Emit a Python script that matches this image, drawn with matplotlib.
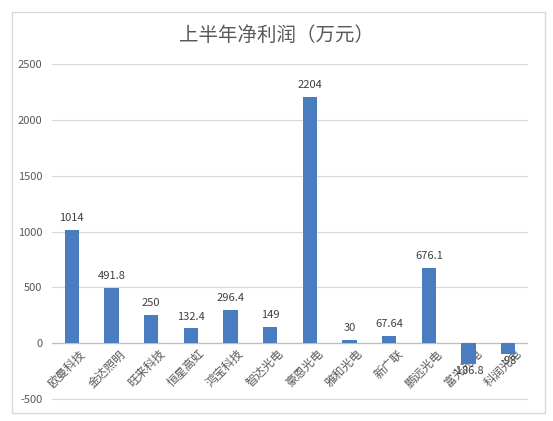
import matplotlib.pyplot as plt
import matplotlib.transforms as mtransforms
from matplotlib.patches import Rectangle
import numpy as np

plt.rcParams['font.family'] = ['Noto Sans CJK SC', 'DejaVu Sans']

# 上半年净利润 data (万元)
companies = ['欧曼科技', '金达照明', '旺来科技', '恒星高虹', '鸿宝科技', '智达光电',
             '豪恩光电', '雅和光电', '新广联', '鹏远光电', '富光光电', '科润光电']
profits = [1014, 491.8, 250, 132.4, 296.4, 149, 2204, 30, 67.64, 676.1, -186.8, -98]
value_labels = ['1014', '491.8', '250', '132.4', '296.4', '149', '2204', '30',
                '67.64', '676.1', '-186.8', '-98']
yticks = [-500, 0, 500, 1000, 1500, 2000, 2500]

bar_color = '#4A7CC0'
text_color = '#595959'
grid_color = '#D9D9D9'

fig = plt.figure(figsize=(5.53, 4.21), dpi=100)
ax = fig.add_axes([0.094, 0.048, 0.861, 0.80])

x = np.arange(len(companies))
ax.bar(x, profits, width=0.36, color=bar_color, zorder=3)

for xi, v, lab in zip(x, profits, value_labels):
    if v >= 0:
        ax.annotate(lab, (xi, v), xytext=(0, 5), textcoords='offset points',
                    ha='center', va='bottom', fontsize=8, color='#404040')
    else:
        ax.annotate(lab, (xi, v), xytext=(0, -1), textcoords='offset points',
                    ha='center', va='top', fontsize=8, color='#404040')

ax.set_ylim(-515, 2500)
ax.set_xlim(-0.5, len(companies) - 0.5)
ax.set_yticks(yticks)
ax.set_yticklabels([str(t) for t in yticks], fontsize=8, color=text_color)
ax.tick_params(axis='y', length=0, pad=7)
ax.grid(axis='y', color=grid_color, linewidth=0.8, zorder=0)
ax.axhline(0, color='#BFBFBF', linewidth=0.9, zorder=2)

ax.set_xticks(x)
ax.set_xticklabels(companies, rotation=45, ha='right', rotation_mode='anchor',
                   fontsize=8.5, color=text_color)
ax.tick_params(axis='x', length=0, pad=0)
# category labels hang from the zero line
zero_frac = 515 / 3015
offset = mtransforms.ScaledTranslation(5 / 72, -3 / 72, fig.dpi_scale_trans)
for lbl in ax.get_xticklabels():
    lbl.set_y(zero_frac)
    lbl.set_transform(lbl.get_transform() + offset)

for s in ax.spines.values():
    s.set_visible(False)

fig.text(0.5, 0.915, '上半年净利润（万元）', ha='center', va='center',
         fontsize=14, color=text_color)

fig.patches.append(Rectangle((0.022, 0.02), 0.963, 0.952, transform=fig.transFigure,
                             fill=False, edgecolor=grid_color, linewidth=1))

fig.savefig('out.png', dpi=100)
